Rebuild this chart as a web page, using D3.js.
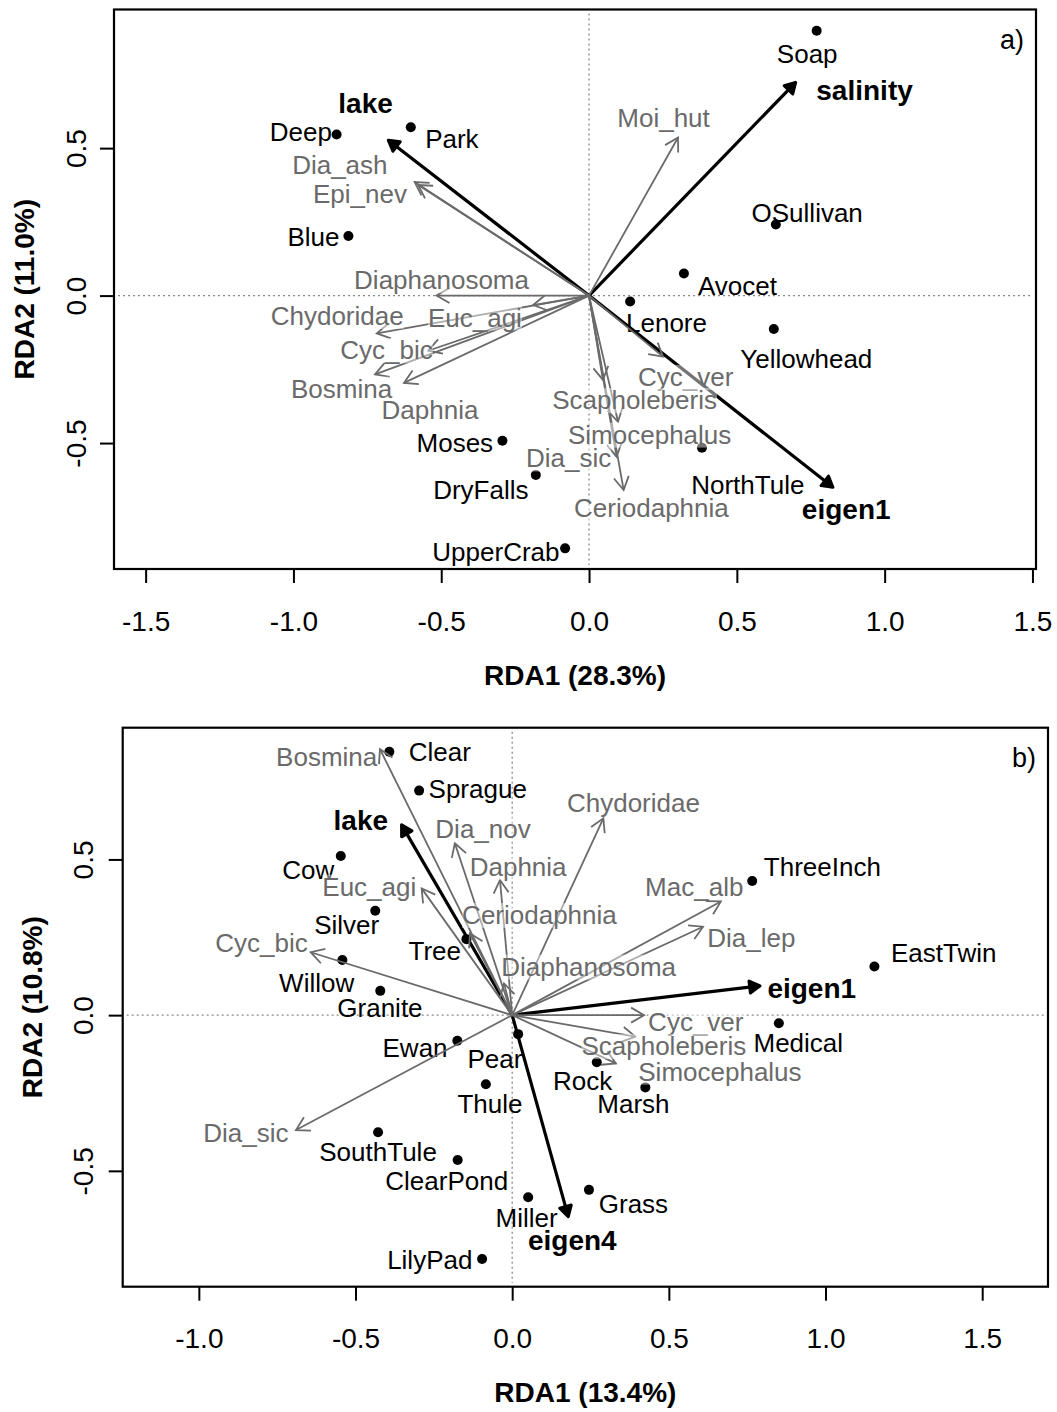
<!DOCTYPE html>
<html>
<head>
<meta charset="utf-8">
<script src="https://cdn.jsdelivr.net/npm/d3@7"></script>
<style>
  body { margin: 0; background: #fff; }
  text { font-family: "Liberation Sans", Arial, Helvetica, sans-serif; }
</style>
</head>
<body>
<div id="chart"></div>
<script>
// RDA triplots, panel a) and b)

// ---- panel a data ----
const aSiteNames = ["Deep", "Park", "Blue", "Soap", "OSullivan", "Avocet", "Lenore", "Yellowhead", "NorthTule", "Moses", "DryFalls", "UpperCrab"];
const aSiteX = [-0.854, -0.603, -0.814, 0.770, 0.632, 0.321, 0.139, 0.625, 0.382, -0.293, -0.180, -0.081];
const aSiteY = [0.546, 0.571, 0.202, 0.898, 0.241, 0.075, -0.020, -0.113, -0.516, -0.492, -0.608, -0.857];
const aSiteLabX = [-0.975, -0.464, -0.932, 0.738, 0.738, 0.502, 0.262, 0.735, 0.537, -0.454, -0.366, -0.315];
const aSiteLabY = [0.555, 0.531, 0.199, 0.821, 0.282, 0.032, -0.091, -0.213, -0.642, -0.501, -0.659, -0.868];

const aSpNames = ["Moi_hut", "Dia_ash", "Epi_nev", "Diaphanosoma", "Chydoridae", "Euc_agi", "Cyc_bic", "Bosmina", "Daphnia", "Cyc_ver", "Scapholeberis", "Simocephalus", "Dia_sic", "Ceriodaphnia"];
const aSpX = [0.301, -0.590, -0.578, -0.516, -0.718, -0.189, -0.544, -0.724, -0.626, 0.250, 0.047, 0.098, 0.093, 0.117];
const aSpY = [0.536, 0.385, 0.375, 0.000, -0.128, -0.032, -0.187, -0.267, -0.296, -0.207, -0.286, -0.428, -0.546, -0.659];
const aSpLabX = [0.252, -0.843, -0.775, -0.499, -0.852, -0.386, -0.685, -0.837, -0.538, 0.327, 0.154, 0.205, -0.069, 0.211];
const aSpLabY = [0.601, 0.442, 0.346, 0.053, -0.069, -0.074, -0.185, -0.315, -0.388, -0.275, -0.354, -0.471, -0.552, -0.721];

const aEnvNames = ["lake", "salinity", "eigen1"];
const aEnvX = [-0.679, 0.699, 0.825];
const aEnvY = [0.527, 0.723, -0.650];
const aEnvLabX = [-0.756, 0.932, 0.870];
const aEnvLabY = [0.654, 0.697, -0.725];

const aXTicks = [-1.5, -1.0, -0.5, 0.0, 0.5, 1.0, 1.5];
const aYTicks = [-0.5, 0.0, 0.5];
const aXTitle = "RDA1 (28.3%)";
const aYTitle = "RDA2 (11.0%)";

// ---- panel b data ----
const bSiteNames = ["Clear", "Sprague", "Cow", "Silver", "Willow", "Granite", "Tree", "Ewan", "Pear", "Thule", "SouthTule", "ClearPond", "Miller", "LilyPad", "ThreeInch", "EastTwin", "Medical", "Rock", "Marsh", "Grass"];
const bSiteX = [-0.392, -0.297, -0.547, -0.437, -0.542, -0.421, -0.146, -0.175, 0.019, -0.084, -0.428, -0.174, 0.051, -0.096, 0.766, 1.156, 0.851, 0.270, 0.425, 0.245];
const bSiteY = [0.846, 0.721, 0.511, 0.335, 0.177, 0.078, 0.244, -0.082, -0.061, -0.222, -0.376, -0.465, -0.585, -0.783, 0.431, 0.156, -0.026, -0.151, -0.232, -0.561];
const bSiteLabX = [-0.231, -0.110, -0.651, -0.528, -0.624, -0.422, -0.247, -0.310, -0.055, -0.071, -0.428, -0.209, 0.046, -0.263, 0.990, 1.377, 0.913, 0.225, 0.387, 0.387];
const bSiteLabY = [0.844, 0.725, 0.466, 0.290, 0.104, 0.022, 0.207, -0.104, -0.141, -0.285, -0.438, -0.532, -0.652, -0.786, 0.477, 0.199, -0.090, -0.211, -0.285, -0.606];

const bSpNames = ["Bosmina", "Dia_nov", "Daphnia", "Euc_agi", "Ceriodaphnia", "Diaphanosoma", "Chydoridae", "Mac_alb", "Dia_lep", "Cyc_bic", "Dia_sic", "Cyc_ver", "Scapholeberis", "Simocephalus"];
const bSpX = [-0.422, -0.183, -0.039, -0.289, -0.135, -0.026, 0.291, 0.666, 0.609, -0.643, -0.690, 0.421, 0.393, 0.331];
const bSpY = [0.854, 0.552, 0.434, 0.407, 0.263, 0.102, 0.632, 0.365, 0.284, 0.202, -0.369, 0.000, -0.069, -0.155];
const bSpLabX = [-0.592, -0.093, 0.019, -0.456, 0.087, 0.244, 0.387, 0.581, 0.763, -0.800, -0.850, 0.586, 0.484, 0.663];
const bSpLabY = [0.830, 0.597, 0.477, 0.413, 0.322, 0.156, 0.680, 0.413, 0.249, 0.231, -0.377, -0.023, -0.099, -0.181];

const bEnvNames = ["lake", "eigen1", "eigen4"];
const bEnvX = [-0.353, 0.791, 0.179];
const bEnvY = [0.611, 0.094, -0.647];
const bEnvLabX = [-0.483, 0.956, 0.192];
const bEnvLabY = [0.627, 0.086, -0.722];

const bXTicks = [-1.0, -0.5, 0.0, 0.5, 1.0, 1.5];
const bYTicks = [-0.5, 0.0, 0.5];
const bXTitle = "RDA1 (13.4%)";
const bYTitle = "RDA2 (10.8%)";

// ---- drawing ----
const width = 1057, height = 1412;
const grey = "#6a6a6a";

let svg = d3.select("#chart")
     .append("svg")
     .attr("width", width)
     .attr("height", height);

function headPath(x0, y0, x1, y1, len, ang, closed) {
     let a = Math.atan2(y1 - y0, x1 - x0);
     let p1 = [x1 - len * Math.cos(a - ang), y1 - len * Math.sin(a - ang)];
     let p2 = [x1 - len * Math.cos(a + ang), y1 - len * Math.sin(a + ang)];
     return "M" + p1 + "L" + x1 + "," + y1 + "L" + p2 + (closed ? "Z" : "");
}

function drawPanel(p) {
     let x = d3.scaleLinear().domain(p.xlim).range([p.left, p.right]);
     let y = d3.scaleLinear().domain(p.ylim).range([p.bottom, p.top]);
     let g = svg.append("g");

     // dotted zero lines
     g.append("line")
          .attr("x1", x(0)).attr("x2", x(0))
          .attr("y1", p.top + 4).attr("y2", p.bottom - 4)
          .attr("stroke", "#888").attr("stroke-width", 1.3)
          .attr("stroke-dasharray", "2,3");
     g.append("line")
          .attr("y1", y(0)).attr("y2", y(0))
          .attr("x1", p.left + 4).attr("x2", p.right - 4)
          .attr("stroke", "#888").attr("stroke-width", 1.3)
          .attr("stroke-dasharray", "2,3");

     // site labels and points
     g.selectAll("text.site")
          .data(p.siteNames)
          .enter()
          .append("text")
          .attr("class", "site")
          .attr("x", (d, i) => x(p.siteLabX[i]))
          .attr("y", (d, i) => y(p.siteLabY[i]))
          .attr("dy", "0.35em")
          .attr("text-anchor", "middle")
          .style("font-size", "26px")
          .attr("fill", "#000")
          .text(d => d);

     g.selectAll("circle.site")
          .data(p.siteNames)
          .enter()
          .append("circle")
          .attr("cx", (d, i) => x(p.siteX[i]))
          .attr("cy", (d, i) => y(p.siteY[i]))
          .attr("r", 5)
          .attr("fill", "#000");

     // environmental arrows (bold)
     p.envNames.forEach(function(d, i) {
          let x1 = x(p.envX[i]), y1 = y(p.envY[i]);
          g.append("line")
               .attr("x1", x(0)).attr("y1", y(0))
               .attr("x2", x1).attr("y2", y1)
               .attr("stroke", "#000").attr("stroke-width", 3.2);
          g.append("path")
               .attr("d", headPath(x(0), y(0), x1, y1, 12, Math.PI / 6, true))
               .attr("fill", "#000").attr("stroke", "#000")
               .attr("stroke-width", 3).attr("stroke-linejoin", "round");
     });

     // species arrows
     p.spNames.forEach(function(d, i) {
          let x1 = x(p.spX[i]), y1 = y(p.spY[i]);
          g.append("line")
               .attr("x1", x(0)).attr("y1", y(0))
               .attr("x2", x1).attr("y2", y1)
               .attr("stroke", grey).attr("stroke-width", 1.8);
          g.append("path")
               .attr("d", headPath(x(0), y(0), x1, y1, 15, Math.PI / 6, false))
               .attr("fill", "none").attr("stroke", grey)
               .attr("stroke-width", 1.8);
     });

     // species labels on a half transparent white background
     p.spNames.forEach(function(d, i) {
          let lg = g.append("g");
          let t = lg.append("text")
               .attr("x", x(p.spLabX[i]))
               .attr("y", y(p.spLabY[i]))
               .attr("dy", "0.35em")
               .attr("text-anchor", "middle")
               .style("font-size", "26px")
               .attr("fill", grey)
               .text(d);
          let bb = t.node().getBBox();
          lg.insert("rect", "text")
               .attr("x", bb.x).attr("y", bb.y + 3)
               .attr("width", bb.width).attr("height", bb.height - 5)
               .attr("fill", "#fff").attr("fill-opacity", 0.45);
     });

     // environmental labels
     g.selectAll("text.env")
          .data(p.envNames)
          .enter()
          .append("text")
          .attr("class", "env")
          .attr("x", (d, i) => x(p.envLabX[i]))
          .attr("y", (d, i) => y(p.envLabY[i]))
          .attr("dy", "0.35em")
          .attr("text-anchor", "middle")
          .style("font-size", "28px")
          .style("font-weight", "bold")
          .text(d => d);

     // panel letter
     g.append("text")
          .attr("x", p.right - 24).attr("y", p.top + 30)
          .attr("dy", "0.35em")
          .attr("text-anchor", "middle")
          .style("font-size", "27px")
          .text(p.letter);

     // box
     g.append("rect")
          .attr("x", p.left).attr("y", p.top)
          .attr("width", p.right - p.left).attr("height", p.bottom - p.top)
          .attr("fill", "none").attr("stroke", "#000").attr("stroke-width", 2.2);

     // x axis
     let xa = g.append("g")
          .attr("transform", "translate(0," + p.bottom + ")")
          .call(d3.axisBottom(x).tickValues(p.xTicks).tickSize(14).tickSizeOuter(0)
               .tickFormat(d3.format(".1f")));
     xa.select(".domain").remove();
     xa.selectAll("line").attr("stroke-width", 2);
     xa.selectAll("text")
          .attr("y", 52).attr("dy", "0.35em")
          .style("font-size", "28px")
          .style("font-family", "'Liberation Sans', Arial, sans-serif")
          .text(d => d3.format(".1f")(d).replace("−", "-"));

     // y axis
     let ya = g.append("g")
          .attr("transform", "translate(" + p.left + ",0)")
          .call(d3.axisLeft(y).tickValues(p.yTicks).tickSize(14).tickSizeOuter(0));
     ya.select(".domain").remove();
     ya.selectAll("line").attr("stroke-width", 2);
     ya.selectAll("text")
          .attr("x", null).attr("y", null).attr("dy", "0.35em")
          .attr("text-anchor", "middle")
          .attr("transform", "translate(" + (p.yLabX - p.left) + ",0) rotate(-90)")
          .style("font-size", "28px")
          .style("font-family", "'Liberation Sans', Arial, sans-serif")
          .text(d => d3.format(".1f")(d).replace("−", "-"));

     // axis titles
     g.append("text")
          .attr("x", (p.left + p.right) / 2).attr("y", p.xTitleY)
          .attr("dy", "0.35em")
          .attr("text-anchor", "middle")
          .style("font-size", "28px").style("font-weight", "bold")
          .text(p.xTitle);
     g.append("text")
          .attr("transform", "translate(" + p.yTitleX + "," + (p.top + p.bottom) / 2 + ") rotate(-90)")
          .attr("dy", "0.35em")
          .attr("text-anchor", "middle")
          .style("font-size", "28px").style("font-weight", "bold")
          .text(p.yTitle);
}

drawPanel({
     left: 114, right: 1036, top: 9.5, bottom: 569,
     xlim: [-1.607, 1.512], ylim: [-0.927, 0.970],
     siteNames: aSiteNames, siteX: aSiteX, siteY: aSiteY, siteLabX: aSiteLabX, siteLabY: aSiteLabY,
     spNames: aSpNames, spX: aSpX, spY: aSpY, spLabX: aSpLabX, spLabY: aSpLabY,
     envNames: aEnvNames, envX: aEnvX, envY: aEnvY, envLabX: aEnvLabX, envLabY: aEnvLabY,
     xTicks: aXTicks, yTicks: aYTicks, xTitle: aXTitle, yTitle: aYTitle,
     letter: "a)", yLabX: 76, yTitleX: 24, xTitleY: 675
});

drawPanel({
     left: 122.7, right: 1048, top: 727.7, bottom: 1286.7,
     xlim: [-1.243, 1.710], ylim: [-0.872, 0.923],
     siteNames: bSiteNames, siteX: bSiteX, siteY: bSiteY, siteLabX: bSiteLabX, siteLabY: bSiteLabY,
     spNames: bSpNames, spX: bSpX, spY: bSpY, spLabX: bSpLabX, spLabY: bSpLabY,
     envNames: bEnvNames, envX: bEnvX, envY: bEnvY, envLabX: bEnvLabX, envLabY: bEnvLabY,
     xTicks: bXTicks, yTicks: bYTicks, xTitle: bXTitle, yTitle: bYTitle,
     letter: "b)", yLabX: 83, yTitleX: 32, xTitleY: 1392
});
</script>
</body>
</html>
